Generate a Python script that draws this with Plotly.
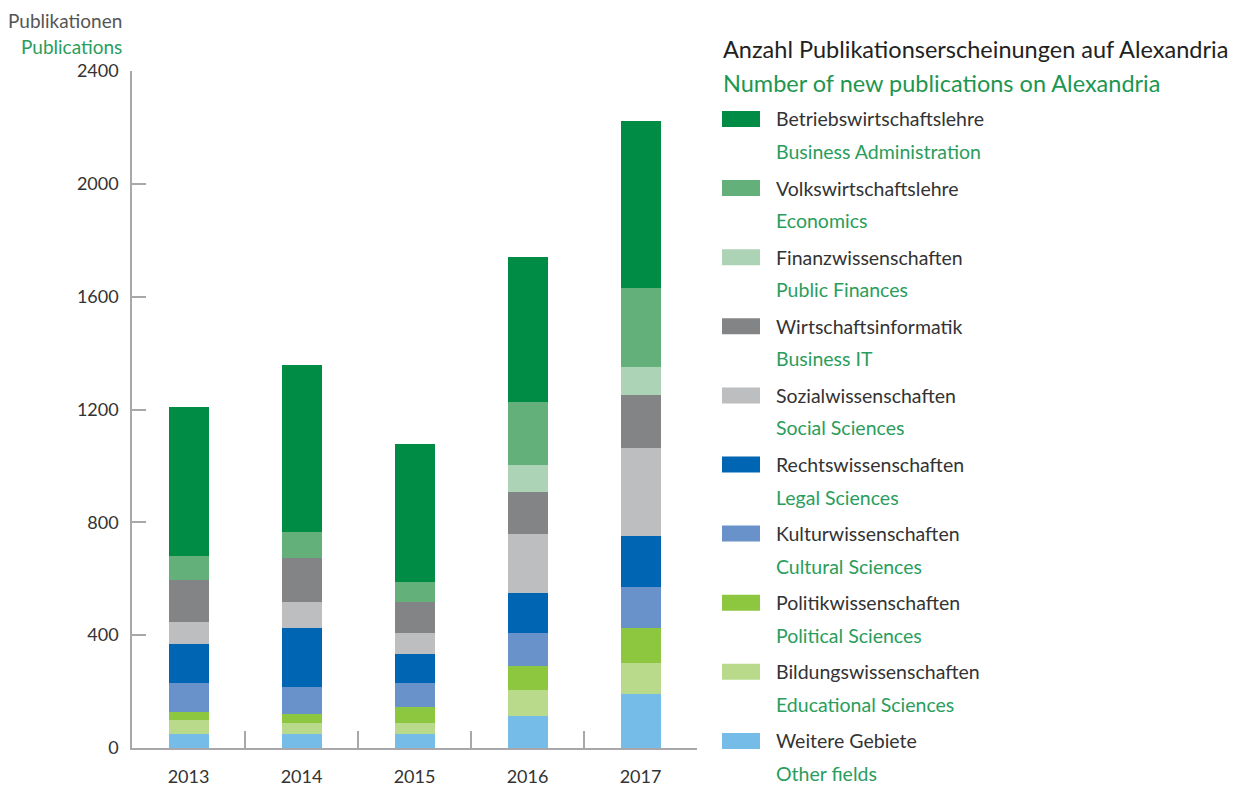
import plotly.graph_objects as go

years = ["2013", "2014", "2015", "2016", "2017"]

# stacking order bottom -> top
fields_de = ["Weitere Gebiete", "Bildungswissenschaften", "Politikwissenschaften",
             "Kulturwissenschaften", "Rechtswissenschaften", "Sozialwissenschaften",
             "Wirtschaftsinformatik", "Finanzwissenschaften", "Volkswirtschaftslehre",
             "Betriebswirtschaftslehre"]
fields_en = ["Other fields", "Educational Sciences", "Political Sciences",
             "Cultural Sciences", "Legal Sciences", "Social Sciences",
             "Business IT", "Public Finances", "Economics", "Business Administration"]

weitere = [51, 48, 48, 115, 190]
bildung = [50, 39, 39, 89, 113]
politik = [28, 32, 57, 85, 124]
kultur = [100, 99, 85, 117, 145]
recht = [138, 209, 106, 145, 181]
sozial = [81, 89, 74, 209, 312]
wirtinf = [148, 159, 110, 146, 185]
finanz = [0, 0, 0, 99, 99]
vwl = [86, 92, 71, 220, 280]
bwl = [528, 592, 489, 514, 592]

series = [weitere, bildung, politik, kultur, recht, sozial, wirtinf, finanz, vwl, bwl]
colors = ["#75BDE8", "#B9DA8B", "#8DC63F", "#6A92CA", "#0066B3", "#BDBEC0",
          "#838486", "#ADD3B6", "#63B07B", "#008C44"]

y_ticks = [0, 400, 800, 1200, 1600, 2000, 2400]

FONT = "Lato"
DARK = "#333333"
GREEN = "#2A9D5C"
AXIS = "#A8A8AA"

fig = go.Figure()
for de, vals, col in zip(fields_de, series, colors):
    fig.add_trace(go.Bar(x=years, y=vals, name=de, marker=dict(color=col, line=dict(width=0)),
                         width=0.354, showlegend=False))

W, H = 1236, 787
L, R, T, B = 132, 697, 71, 748


def px(x):
    return (x - L) / (R - L)


def py(y):
    return (B - y) / (B - T)


fig.update_layout(
    width=W, height=H, barmode="stack",
    margin=dict(l=L, r=W - R, t=T, b=H - B, autoexpand=False),
    plot_bgcolor="white", paper_bgcolor="white",
    font=dict(family=FONT, color=DARK, size=18),
    xaxis=dict(type="category", range=[-0.5, 4.5], showline=True, linecolor=AXIS, linewidth=1.5,
               ticks="inside", tickson="boundaries", ticklen=17, tickcolor=AXIS, tickwidth=1.5,
               showgrid=False, tickfont=dict(size=18, color=DARK), ticklabelstandoff=12,
               automargin=False),
    yaxis=dict(range=[0, 2400], tickvals=y_ticks, showline=True, linecolor=AXIS, linewidth=1.5,
               ticks="inside", ticklen=14, tickcolor=AXIS, tickwidth=1.5, showgrid=False,
               zeroline=False, tickfont=dict(size=18, color=DARK), ticklabelstandoff=8,
               automargin=False),
)

ann = [
    dict(text="Publikationen", x=px(124), y=py(20), xanchor="right", yanchor="middle",
         font=dict(size=19, color="#555555")),
    dict(text="Publications", x=px(124), y=py(46), xanchor="right", yanchor="middle",
         font=dict(size=19, color=GREEN)),
    dict(text="Anzahl Publikationserscheinungen auf Alexandria", x=px(721), y=py(49),
         xanchor="left", yanchor="middle", font=dict(size=23.5, color="#222222")),
    dict(text="Number of new publications on Alexandria", x=px(721), y=py(83),
         xanchor="left", yanchor="middle", font=dict(size=23.5, color="#1E9650")),
]
shapes = []
n = len(fields_de)
for i in range(n):
    k = n - 1 - i  # legend top to bottom: top of stack first
    yc = 119 + i * 69.1
    shapes.append(dict(type="rect", xref="paper", yref="paper", x0=px(722), x1=px(760),
                       y0=py(yc - 8), y1=py(yc + 8), fillcolor=colors[k], line=dict(width=0)))
    ann.append(dict(text=fields_de[k], x=px(774), y=py(yc), xanchor="left", yanchor="middle",
                    font=dict(size=19.5, color=DARK)))
    ann.append(dict(text=fields_en[k], x=px(774), y=py(yc + 32.5), xanchor="left",
                    yanchor="middle", font=dict(size=19.5, color=GREEN)))

for a in ann:
    a.update(xref="paper", yref="paper", showarrow=False)
fig.update_layout(annotations=ann, shapes=shapes)

fig.write_html("out.html", config={"displayModeBar": False},
               post_script="document.body.style.margin='0';")
